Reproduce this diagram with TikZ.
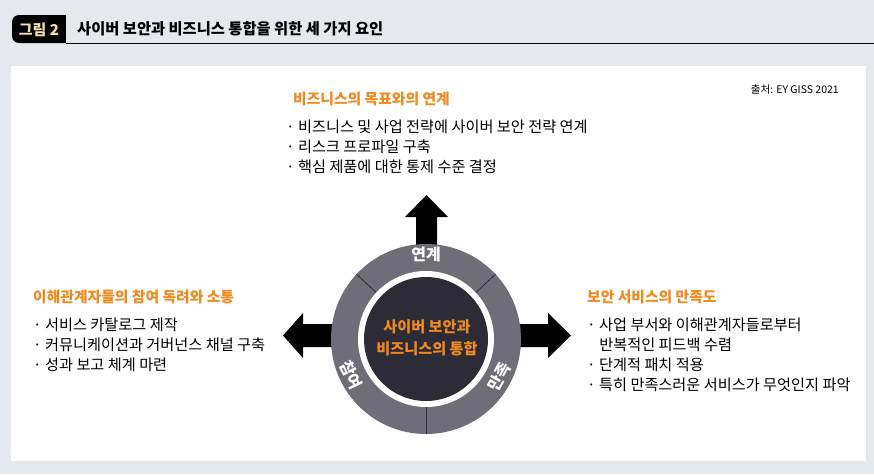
\documentclass[tikz,border=0pt]{standalone}
\usepackage{fontspec}
\setmainfont{Noto Sans CJK KR}
\definecolor{bgc}{HTML}{E5E9EE}
\definecolor{ringc}{HTML}{6E6D78}
\definecolor{corec}{HTML}{2D2C36}
\definecolor{orangec}{HTML}{F08A1E}
\definecolor{creamc}{HTML}{F3DEB0}
\tikzset{
  heading/.style={anchor=west, inner sep=0pt, text=orangec, font=\fontsize{14.8}{17}\selectfont\bfseries},
  bullets/.style={anchor=north west, inner sep=0pt, align=left, text=black, font=\fontsize{15.2}{19.8}\selectfont},
  ringlabel/.style={inner sep=0pt, text=white, font=\fontsize{16}{18}\selectfont\bfseries},
  bigarrow/.style={fill=black},
  divider/.style={draw=corec, line width=0.8pt},
}
\begin{document}
\begin{tikzpicture}[x=1pt,y=-1pt]
\useasboundingbox (0,0) rectangle (874,474);
\fill[bgc] (0,0) rectangle (874,474);
\fill[white] (11,66) rectangle (866,461);
% title
\fill[black, rounded corners=7pt] (12,15) rectangle (80,43);
\fill[black] (50,15) rectangle (66,43);
\fill[bgc] (66,14) rectangle (90,43);
\draw[black, line width=1.2pt] (66,43.5) -- (874,43.5);
\node[anchor=center, inner sep=0pt, text=creamc, font=\fontsize{15}{17}\selectfont\bfseries] (badge) at (39,30) {그림 2};
\node[anchor=west, inner sep=0pt, font=\fontsize{15.3}{18}\selectfont\bfseries] (title) at (77,29) {사이버 보안과 비즈니스 통합을 위한 세 가지 요인};
\node[anchor=east, inner sep=0pt, font=\fontsize{10.5}{12}\selectfont] (source) at (839,90) {출처: EY GISS 2021};
% arrows
\fill[bigarrow] (416,260) -- (416,217) -- (405,217) -- (426.5,195) -- (448,217) -- (437,217) -- (437,260) -- cycle;
\fill[bigarrow] (345,324) -- (303,324) -- (303,313) -- (283,335.5) -- (303,358) -- (303,347) -- (345,347) -- cycle;
\fill[bigarrow] (505,324) -- (548,324) -- (548,313) -- (571,335.5) -- (548,358) -- (548,347) -- (505,347) -- cycle;
% circle
\coordinate (c) at (426,339);
\fill[ringc] (c) circle[radius=95];
\draw[divider, shift={(c)}] (-43:68) -- (-43:95);
\draw[divider, shift={(c)}] (-137:68) -- (-137:95);
\draw[divider, shift={(c)}] (90:68) -- (90:95);
\fill[white] (c) circle[radius=68];
\fill[corec] (c) circle[radius=62];
\node[ringlabel] (l1) at (426,254) {연계};
\node[ringlabel, rotate=-64] (l2) at (351,375) {참여};
\node[ringlabel, rotate=61] (l3) at (499,377) {만족};
\node[inner sep=0pt, align=center, text=orangec, font=\fontsize{15.2}{22}\selectfont\bfseries] (core) at (427,338) {사이버 보안과\\비즈니스의 통합};
% top block
\node[heading] (h1) at (293,99) {비즈니스의 목표와의 연계};
\node[bullets] (b1) at (286,120) {· 비즈니스 및 사업 전략에 사이버 보안 전략 연계\\· 리스크 프로파일 구축\\· 핵심 제품에 대한 통제 수준 결정};
% left block
\node[heading] (h2) at (33,297) {이해관계자들의 참여 독려와 소통};
\node[bullets] (b2) at (33,318) {· 서비스 카탈로그 제작\\· 커뮤니케이션과 거버넌스 채널 구축\\· 성과 보고 체계 마련};
% right block
\node[heading] (h3) at (587,297) {보안 서비스의 만족도};
\node[bullets] (b3) at (587,318) {· 사업 부서와 이해관계자들로부터\\\hspace*{0.8em}반복적인 피드백 수렴\\· 단계적 패치 적용\\· 특히 만족스러운 서비스가 무엇인지 파악};
\end{tikzpicture}
\end{document}
